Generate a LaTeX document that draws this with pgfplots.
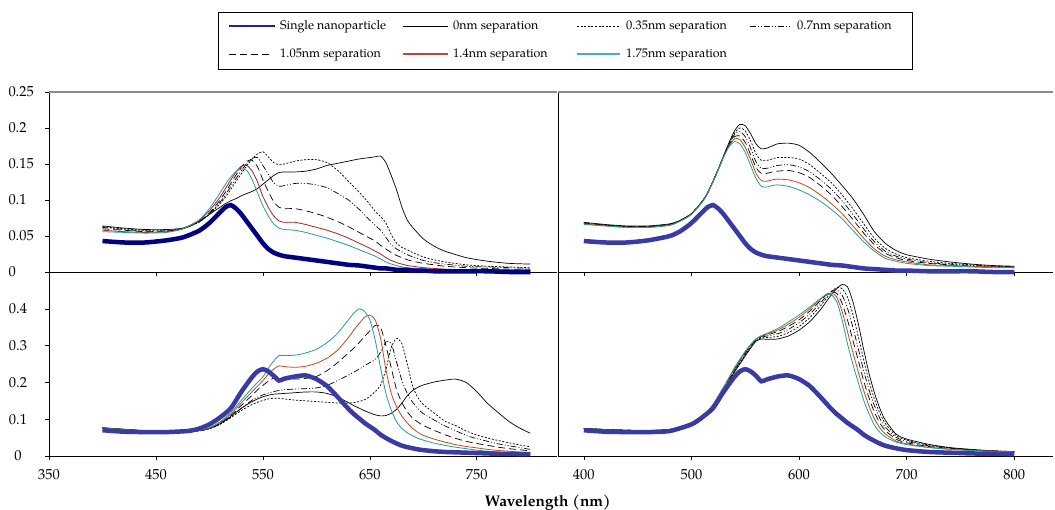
\documentclass[border=0pt]{standalone}
\usepackage{fontspec}
\setmainfont{TeX Gyre Pagella}
\usepackage{pgfplots}
\pgfplotsset{compat=1.18}
\usepackage{pgfplotstable}

\definecolor{navyS}{RGB}{0,0,128}
\definecolor{navyL}{RGB}{30,30,150}
\definecolor{blueS}{RGB}{58,58,165}
\definecolor{redA}{RGB}{165,35,35}
\definecolor{redL}{RGB}{185,70,70}
\definecolor{redB}{RGB}{195,75,25}
\definecolor{tealS}{RGB}{35,155,155}
\definecolor{tealL}{RGB}{70,175,175}

\pgfplotstableread{
lam s a0 a35 a70 a105 a140 a175
400 .043 .064 .063 .062 .060 .058 .056
420 .041 .061 .060 .059 .058 .056 .055
440 .041 .059 .058 .057 .056 .055 .054
460 .044 .059 .058 .057 .057 .056 .055
475 .048 .061 .060 .060 .060 .060 .060
490 .057 .070 .069 .069 .070 .071 .072
500 .068 .080 .080 .081 .082 .085 .088
510 .083 .090 .095 .097 .100 .104 .110
515 .090 .095 .104 .107 .111 .116 .122
520 .093 .099 .115 .119 .123 .128 .132
525 .088 .102 .126 .130 .135 .139 .140
530 .080 .106 .137 .141 .146 .147 .143
535 .070 .109 .148 .151 .154 .148 .141
540 .060 .112 .157 .158 .155 .140 .128
545 .050 .116 .164 .159 .146 .125 .110
550 .040 .122 .167 .148 .128 .105 .092
555 .032 .128 .160 .136 .112 .090 .078
560 .027 .134 .152 .124 .098 .078 .067
565 .024 .138 .149 .119 .090 .071 .061
570 .022 .139 .150 .120 .088 .069 .059
580 .020 .139 .154 .123 .088 .069 .058
590 .018 .140 .156 .123 .085 .066 .055
600 .016 .143 .156 .121 .081 .062 .051
610 .014 .148 .152 .117 .076 .058 .047
620 .012 .151 .141 .109 .070 .053 .042
630 .010 .154 .126 .100 .063 .047 .037
640 .009 .157 .111 .087 .055 .040 .031
650 .007 .159 .094 .072 .047 .033 .025
655 .006 .160 .084 .065 .043 .029 .022
660 .005 .161 .077 .058 .037 .025 .018
665 .005 .152 .068 .048 .032 .020 .014
670 .004 .134 .052 .038 .027 .016 .011
675 .003 .114 .040 .032 .023 .013 .009
680 .003 .090 .034 .028 .020 .011 .007
685 .003 .072 .031 .024 .017 .009 .006
690 .002 .062 .027 .021 .015 .008 .005
700 .002 .046 .021 .016 .012 .006 .004
710 .001 .036 .017 .013 .010 .005 .003
720 .001 .029 .014 .011 .008 .004 .003
740 .001 .020 .010 .008 .006 .003 .002
760 .001 .015 .008 .007 .005 .003 .002
780 .000 .012 .007 .006 .004 .003 .002
800 .000 .011 .006 .005 .004 .003 .002
}\TL

\pgfplotstableread{
lam s a0 a35 a70 a105 a140 a175
400 .043 .069 .068 .068 .067 .067 .066
420 .041 .066 .065 .065 .065 .064 .064
440 .041 .064 .063 .063 .063 .062 .062
460 .044 .064 .063 .063 .063 .062 .062
480 .050 .067 .066 .066 .066 .065 .065
490 .057 .072 .072 .072 .072 .071 .071
500 .068 .081 .081 .081 .081 .080 .080
510 .083 .098 .098 .098 .098 .097 .097
515 .090 .110 .110 .110 .110 .109 .109
520 .093 .126 .126 .126 .126 .125 .125
525 .088 .143 .143 .143 .143 .142 .142
530 .080 .162 .161 .161 .161 .160 .160
535 .070 .180 .178 .177 .176 .175 .174
540 .060 .196 .193 .191 .188 .185 .181
545 .050 .205 .200 .195 .189 .184 .178
550 .040 .203 .196 .188 .180 .173 .166
555 .032 .192 .182 .172 .163 .156 .148
560 .027 .178 .164 .153 .145 .137 .130
565 .024 .171 .155 .144 .137 .127 .119
570 .022 .172 .155 .144 .137 .126 .118
575 .021 .175 .157 .146 .139 .128 .120
580 .020 .178 .159 .148 .140 .129 .121
590 .018 .179 .159 .149 .141 .128 .119
600 .016 .176 .157 .146 .138 .124 .114
610 .014 .166 .149 .139 .131 .117 .107
620 .012 .152 .137 .128 .120 .107 .098
630 .010 .137 .124 .115 .107 .095 .087
640 .009 .120 .107 .099 .091 .081 .074
650 .007 .102 .088 .080 .073 .064 .058
660 .005 .080 .067 .060 .054 .047 .042
670 .004 .056 .047 .042 .038 .032 .029
680 .003 .040 .033 .029 .026 .022 .019
690 .002 .030 .025 .022 .020 .017 .015
700 .002 .024 .020 .018 .016 .014 .012
720 .001 .018 .015 .013 .012 .010 .009
740 .001 .014 .012 .011 .010 .009 .008
760 .001 .011 .010 .009 .008 .008 .007
780 .000 .009 .008 .008 .007 .007 .006
800 .000 .008 .007 .007 .007 .006 .006
}\TR

\pgfplotstableread{
lam s a0 a35 a70 a105 a140 a175
400 .070 .077 .076 .076 .076 .076 .076
420 .066 .073 .072 .072 .072 .072 .072
440 .065 .069 .068 .068 .068 .068 .068
460 .065 .067 .066 .066 .066 .066 .066
480 .068 .067 .066 .066 .066 .066 .066
490 .074 .069 .068 .068 .069 .069 .069
500 .086 .075 .074 .074 .075 .076 .077
510 .105 .088 .086 .087 .089 .091 .093
520 .130 .108 .104 .106 .110 .114 .118
530 .175 .130 .124 .130 .138 .145 .152
540 .215 .148 .140 .152 .165 .175 .185
545 .230 .155 .146 .160 .180 .190 .200
550 .236 .161 .151 .166 .192 .205 .215
555 .230 .165 .155 .171 .203 .222 .238
560 .218 .168 .157 .175 .212 .236 .258
565 .205 .169 .157 .178 .215 .245 .273
570 .210 .170 .155 .180 .212 .243 .273
580 .216 .172 .152 .182 .209 .241 .274
590 .219 .174 .150 .183 .211 .244 .280
600 .209 .174 .148 .185 .216 .252 .290
610 .190 .170 .146 .192 .232 .266 .308
620 .160 .160 .144 .205 .254 .288 .334
630 .128 .145 .144 .220 .280 .322 .370
635 .114 .137 .145 .228 .293 .342 .388
640 .102 .130 .148 .236 .308 .360 .400
645 .090 .123 .153 .245 .325 .377 .393
650 .080 .117 .162 .254 .340 .383 .370
655 .070 .112 .175 .262 .355 .370 .315
660 .058 .109 .192 .282 .350 .320 .240
665 .049 .110 .235 .310 .300 .235 .170
670 .041 .116 .295 .306 .240 .170 .125
675 .034 .127 .320 .255 .180 .134 .093
680 .028 .144 .305 .205 .145 .108 .075
685 .024 .164 .250 .170 .120 .090 .063
690 .021 .178 .190 .146 .103 .075 .055
695 .018 .187 .158 .128 .092 .064 .048
700 .016 .193 .140 .115 .083 .056 .043
710 .013 .201 .117 .098 .070 .046 .035
720 .011 .206 .095 .082 .058 .038 .029
730 .010 .209 .083 .069 .048 .031 .024
740 .009 .200 .068 .056 .040 .026 .020
750 .008 .175 .057 .047 .034 .022 .016
760 .007 .143 .049 .040 .029 .018 .013
770 .006 .118 .042 .033 .024 .015 .011
780 .006 .094 .036 .028 .020 .013 .009
790 .005 .076 .030 .023 .017 .011 .007
800 .005 .062 .025 .018 .014 .009 .006
}\BL

\pgfplotstableread{
lam s a0 a35 a70 a105 a140 a175
400 .070 .075 .075 .075 .075 .074 .074
420 .066 .072 .072 .072 .072 .071 .071
440 .065 .070 .070 .070 .070 .069 .069
460 .065 .069 .069 .069 .069 .068 .068
480 .068 .072 .072 .072 .072 .071 .071
500 .086 .082 .082 .082 .083 .083 .083
510 .105 .100 .101 .101 .102 .103 .103
520 .130 .135 .136 .137 .138 .139 .140
530 .175 .180 .182 .184 .186 .187 .188
540 .215 .228 .230 .233 .236 .238 .240
545 .230 .250 .253 .256 .259 .261 .263
550 .236 .272 .275 .278 .281 .283 .285
555 .230 .293 .296 .298 .300 .302 .303
560 .218 .312 .314 .316 .317 .318 .318
565 .203 .318 .321 .323 .325 .326 .327
570 .208 .317 .322 .326 .329 .331 .333
580 .216 .318 .325 .332 .338 .342 .346
590 .219 .326 .335 .344 .352 .358 .364
600 .209 .342 .352 .362 .370 .377 .383
610 .190 .365 .376 .386 .394 .400 .405
620 .160 .398 .408 .416 .422 .426 .428
625 .144 .418 .427 .433 .437 .439 .438
630 .128 .438 .446 .448 .446 .443 .438
635 .114 .455 .458 .452 .442 .432 .420
640 .102 .466 .455 .437 .415 .393 .370
645 .090 .460 .432 .402 .370 .338 .305
650 .080 .420 .385 .350 .315 .282 .250
655 .070 .360 .325 .292 .260 .229 .200
660 .058 .290 .262 .233 .205 .178 .152
665 .049 .225 .203 .180 .158 .136 .115
670 .041 .172 .155 .137 .119 .101 .084
675 .034 .130 .117 .103 .090 .077 .065
680 .028 .098 .089 .079 .070 .060 .052
690 .021 .060 .056 .051 .046 .041 .038
700 .016 .046 .043 .040 .036 .033 .031
720 .011 .032 .030 .028 .026 .024 .023
740 .009 .023 .022 .021 .020 .019 .018
760 .007 .018 .017 .017 .016 .015 .015
780 .006 .014 .014 .014 .013 .013 .013
800 .005 .012 .012 .012 .011 .011 .011
}\BR

\pgfplotsset{
  panel/.style={
    scale only axis, clip=false,
    axis x line=bottom, axis y line=left,
    axis line style={-, line width=0.8bp, black},
    tick style={black, line width=0.6bp},
    major tick length=4bp, tick align=outside,
    tick label style={font=\fontsize{14.5}{16}\selectfont},
    /pgf/number format/assume math mode=true,
  },
  toppanel/.style={panel,
    after end axis/.code={\draw[black!45, line width=1.2bp] (rel axis cs:0,1) -- (rel axis cs:1,1);},
  },
  sep0/.style={black, line width=0.7bp, smooth, tension=0.4},
  sep35/.style={black, line width=0.7bp, dash pattern=on 2bp off 1.6bp, smooth, tension=0.4},
  sep70/.style={black, line width=0.7bp, dash pattern=on 6bp off 2bp on 1bp off 2bp on 1bp off 2bp, smooth, tension=0.4},
  sep105/.style={black, line width=0.7bp, dash pattern=on 7bp off 4bp, smooth, tension=0.4},
}

\begin{document}
\begin{tikzpicture}
\useasboundingbox (0bp,0bp) rectangle (1055bp,510bp);

% top left
\begin{axis}[toppanel, at={(49bp,238bp)}, anchor=south west, width=508bp, height=180bp,
  xmin=350, xmax=825, ymin=0, ymax=0.25,
  xtick={350,450,550,650,750}, xticklabels={},
  ytick={0,0.05,0.1,0.15,0.2,0.25}, yticklabels={0,0.05,0.1,0.15,0.2,0.25},
  yticklabel style={anchor=west, xshift=-40bp},
]
\addplot[sep0] table[x=lam,y=a0]{\TL};
\addplot[sep35] table[x=lam,y=a35]{\TL};
\addplot[sep70] table[x=lam,y=a70]{\TL};
\addplot[sep105] table[x=lam,y=a105]{\TL};
\addplot[redA, line width=0.8bp, smooth, tension=0.4] table[x=lam,y=a140]{\TL};
\addplot[tealS, line width=0.8bp, smooth, tension=0.4] table[x=lam,y=a175]{\TL};
\addplot[navyS, line width=4.5bp, smooth, tension=0.4] table[x=lam,y=s]{\TL};
\end{axis}

% top right
\begin{axis}[toppanel, at={(558bp,238bp)}, anchor=south west, width=495bp, height=180bp,
  xmin=376, xmax=836, ymin=0, ymax=0.25,
  xtick={400,500,600,700,800}, xticklabels={}, ytick=\empty]
\addplot[sep0] table[x=lam,y=a0]{\TR};
\addplot[sep35] table[x=lam,y=a35]{\TR};
\addplot[sep70] table[x=lam,y=a70]{\TR};
\addplot[sep105] table[x=lam,y=a105]{\TR};
\addplot[redB, line width=0.8bp, smooth, tension=0.4] table[x=lam,y=a140]{\TR};
\addplot[tealS, line width=0.8bp, smooth, tension=0.4] table[x=lam,y=a175]{\TR};
\addplot[blueS, line width=4.5bp, smooth, tension=0.4] table[x=lam,y=s]{\TR};
\end{axis}

% bottom left
\begin{axis}[panel, at={(49bp,54bp)}, anchor=south west, width=508bp, height=184bp,
  xmin=350, xmax=825, ymin=0, ymax=0.5,
  xtick={350,450,550,650,750}, xticklabels={350,450,550,650,750},
  xticklabel style={yshift=-6bp},
  ytick={0,0.1,0.2,0.3,0.4,0.5}, yticklabels={0,0.1,0.2,0.3,0.4,},
  yticklabel style={anchor=center, xshift=-27bp},
  xlabel={Wavelength (nm)},
  xlabel style={at={(axis description cs:0.982,-0.252)}, anchor=center, font=\fontsize{15.5}{18}\selectfont\bfseries},
]
\addplot[sep0] table[x=lam,y=a0]{\BL};
\addplot[sep35] table[x=lam,y=a35]{\BL};
\addplot[sep70] table[x=lam,y=a70]{\BL};
\addplot[sep105] table[x=lam,y=a105]{\BL};
\addplot[redB, line width=0.8bp, smooth, tension=0.4] table[x=lam,y=a140]{\BL};
\addplot[tealS, line width=0.8bp, smooth, tension=0.4] table[x=lam,y=a175]{\BL};
\addplot[blueS, line width=4.5bp, smooth, tension=0.4] table[x=lam,y=s]{\BL};
\end{axis}

% bottom right
\begin{axis}[panel, at={(558bp,54bp)}, anchor=south west, width=495bp, height=184bp,
  xmin=376, xmax=836, ymin=0, ymax=0.5,
  xtick={400,500,600,700,800}, xticklabels={400,500,600,700,800},
  xticklabel style={yshift=-6bp}, ytick=\empty]
\addplot[sep0] table[x=lam,y=a0]{\BR};
\addplot[sep35] table[x=lam,y=a35]{\BR};
\addplot[sep70] table[x=lam,y=a70]{\BR};
\addplot[sep105] table[x=lam,y=a105]{\BR};
\addplot[redB, line width=0.8bp, smooth, tension=0.4] table[x=lam,y=a140]{\BR};
\addplot[tealS, line width=0.8bp, smooth, tension=0.4] table[x=lam,y=a175]{\BR};
\addplot[blueS, line width=4.5bp, smooth, tension=0.4] table[x=lam,y=s]{\BR};
\end{axis}

% legend
\draw[black, line width=0.8bp, fill=white] (218bp,441bp) rectangle (912bp,498bp);
\begin{scope}[every node/.style={anchor=base west, inner sep=0pt, yshift=-3.5bp, font=\fontsize{12.5}{14}\selectfont}]
\draw[navyL, line width=1.05bp] (229bp,484bp) -- (275bp,484bp);
\node at (280bp,484bp) {Single nanoparticle};
\draw[black, line width=0.8bp] (403bp,484bp) -- (448bp,484bp);
\node at (453bp,484bp) {0nm separation};
\draw[black, line width=0.8bp, dash pattern=on 2bp off 1.6bp] (577bp,484bp) -- (620bp,484bp);
\node at (626bp,484bp) {0.35nm separation};
\draw[black, line width=0.8bp, dash pattern=on 6bp off 2bp on 1bp off 2bp on 1bp off 2bp] (750bp,484bp) -- (792bp,484bp);
\node at (797bp,484bp) {0.7nm separation};
\draw[black, line width=0.8bp, dash pattern=on 7bp off 4bp] (229bp,456bp) -- (272bp,456bp);
\node at (280bp,456bp) {1.05nm separation};
\draw[redL, line width=1.3bp] (403bp,456bp) -- (448bp,456bp);
\node at (453bp,456bp) {1.4nm separation};
\draw[tealL, line width=1.3bp] (577bp,456bp) -- (620bp,456bp);
\node at (626bp,456bp) {1.75nm separation};
\end{scope}
\end{tikzpicture}
\end{document}
